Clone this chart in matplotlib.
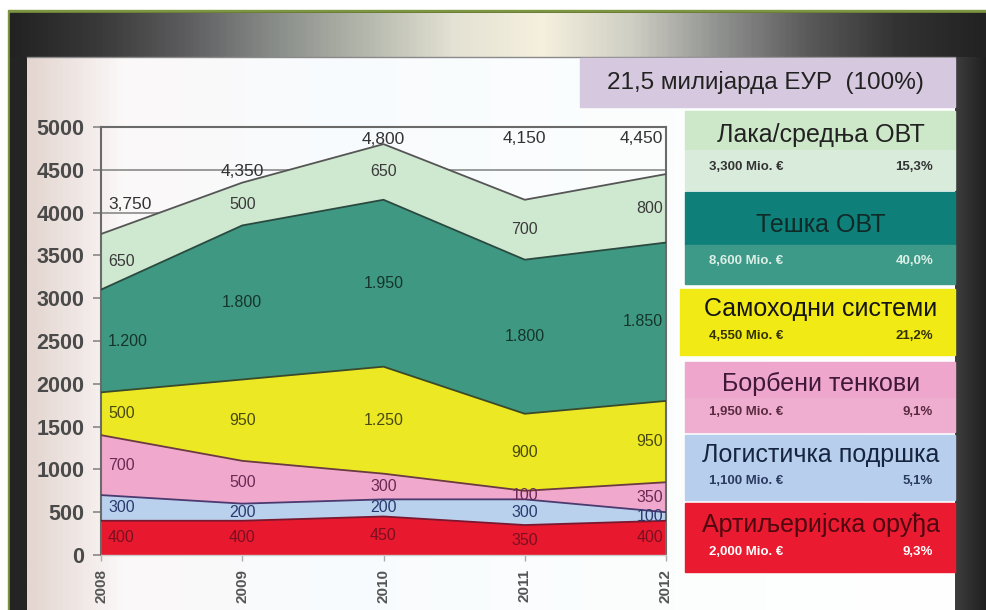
import matplotlib
matplotlib.use("Agg")
import matplotlib.pyplot as plt
import numpy as np
from matplotlib.colors import LinearSegmentedColormap
from matplotlib.patches import Rectangle

plt.rcParams["font.family"] = ["Liberation Sans", "DejaVu Sans"]

# --- data (Mio. EUR per year), stacked bottom -> top ---
years = [2008, 2009, 2010, 2011, 2012]
artiljerija = [400, 400, 450, 350, 400]
logistika = [300, 200, 200, 300, 100]
tenkovi = [700, 500, 300, 100, 350]
samohodni = [500, 950, 1250, 900, 950]
teska_ovt = [1200, 1800, 1950, 1800, 1850]
laka_ovt = [650, 500, 650, 700, 800]
layers = [artiljerija, logistika, tenkovi, samohodni, teska_ovt, laka_ovt]

y_ticks = [0, 500, 1000, 1500, 2000, 2500, 3000, 3500, 4000, 4500, 5000]

total_title = "21,5 милијарда ЕУР  (100%)"
legend_names = ["Лака/средња ОВТ", "Тешка ОВТ", "Самоходни системи",
                "Борбени тенкови", "Логистичка подршка", "Артиљеријска оруђа"]
legend_amounts = ["3,300 Mio. €", "8,600 Mio. €", "4,550 Mio. €",
                  "1,950 Mio. €", "1,100 Mio. €", "2,000 Mio. €"]
legend_shares = ["15,3%", "40,0%", "21,2%", "9,1%", "5,1%", "9,3%"]

# --- styles (bottom -> top) ---
fill_colors = ["#e8182e", "#b9d1ec", "#f0a9cc", "#ece824", "#3f9882", "#cfe8d0"]
edge_colors = ["#7a1830", "#4a3a70", "#6a3a40", "#3a4a2a", "#2a4a40", "#555555"]
label_colors = ["#7a1020", "#2a3a70", "#6a2a55", "#4a4a10", "#15352c", "#3a3a3a"]
# height at which the yearly totals are written (top row of labels)
total_label_y = [4090, 4475, 4850, 4870, 4860]

W, H = 987, 610
fig = plt.figure(figsize=(W / 100, H / 100), dpi=100)
fig.patch.set_facecolor("white")

# background / frame in pixel coordinates
bg = fig.add_axes([0, 0, 1, 1])
bg.set_xlim(0, W)
bg.set_ylim(H, 0)
bg.axis("off")

bg.add_patch(Rectangle((8, 10), W - 8, H - 10, color="#7d9440", zorder=0))
bg.add_patch(Rectangle((10, 13), W - 10, H - 13, color="#242424", zorder=0.5))

top_cmap = LinearSegmentedColormap.from_list(
    "topbar", ["#222222", "#3a3a3a", "#5e5e60", "#8a8e8a", "#b4b8ac", "#e4e2d4",
               "#f6f0de", "#cfcfc4", "#909290", "#5a5a5a", "#333333", "#222222"])
bg.imshow(np.linspace(0, 1, 400)[None, :], cmap=top_cmap, aspect="auto",
          extent=(10, W, 57, 13), zorder=1)

right_cmap = LinearSegmentedColormap.from_list("rframe", ["#3e3e3e", "#1e1e1e"])
bg.imshow(np.linspace(0, 1, 50)[None, :], cmap=right_cmap, aspect="auto",
          extent=(955, W, H, 57), zorder=1)

panel_cmap = LinearSegmentedColormap.from_list(
    "panel", [(0.0, "#e4d6d0"), (0.05, "#efe6e4"), (0.1, "#fbf8f8"),
              (0.3, "#f8fbfd"), (0.7, "#fcfefe"), (1.0, "#ffffff")])
bg.imshow(np.linspace(0, 1, 400)[None, :], cmap=panel_cmap, aspect="auto",
          extent=(27, 955, H, 57), zorder=1)
bg.plot([27, 955], [57, 57], color="#8a8a8a", lw=1, zorder=2)

# legend boxes
bg.add_patch(Rectangle((580, 58), 375, 49, color="#d6c8de", zorder=2))
bg.text(765, 83, total_title, fontsize=17.5, color="#222222",
        ha="center", va="center", zorder=3)

box_top = [111, 192, 289, 362, 435, 503]
box_bottom = [190, 284, 355, 432, 500, 572]
box_split = [150, 245, 322, 398, 467, 538]
box_left = [685, 685, 680, 685, 685, 685]
head_colors = ["#cde8c8", "#0f7f7a", "#f2ea14", "#eea6cc", "#b7cfec", "#ea1a30"]
foot_colors = ["#d9ecdc", "#3d9a88", "#f2ea14", "#efaed0", "#b7cfec", "#ea1a30"]
head_text = ["#222222", "#102a28", "#151515", "#40183a", "#152540", "#500810"]
foot_text = ["#333333", "#dcefe6", "#333300", "#5a2a40", "#2a3a60", "#ffffff"]

for i, name in enumerate(legend_names):
    x0 = box_left[i]
    bg.add_patch(Rectangle((x0, box_top[i]), 955 - x0, box_split[i] - box_top[i],
                           color=head_colors[i], zorder=2))
    bg.add_patch(Rectangle((x0, box_split[i]), 955 - x0, box_bottom[i] - box_split[i],
                           color=foot_colors[i], zorder=2))
    mid_head = box_top[i] + (box_split[i] - box_top[i]) * 0.62
    mid_foot = box_split[i] + (box_bottom[i] - box_split[i]) * 0.42
    bg.text(821, mid_head, name, fontsize=18, color=head_text[i],
            ha="center", va="center", zorder=3)
    bg.text(709, mid_foot, legend_amounts[i], fontsize=9.5, fontweight="bold",
            color=foot_text[i], ha="left", va="center", zorder=3)
    bg.text(933, mid_foot, legend_shares[i], fontsize=9.5, fontweight="bold",
            color=foot_text[i], ha="right", va="center", zorder=3)

# --- the stacked area chart ---
ax = fig.add_axes([101 / W, 55 / H, 565 / W, 428 / H])
ax.set_facecolor("none")
ax.stackplot(years, layers, colors=fill_colors, linewidth=0, zorder=2)

cum = np.cumsum(np.array(layers), axis=0)
for i in range(len(layers)):
    ax.plot(years, cum[i], color=edge_colors[i], lw=1.3, zorder=3)

ax.set_xlim(years[0], years[-1])
ax.set_ylim(0, 5000)
ax.set_yticks(y_ticks)
ax.set_yticklabels([str(t) for t in y_ticks], fontsize=15.5, fontweight="bold",
                   color="#4a4a4a")
ax.set_xticks(years)
ax.set_xticklabels([str(y) for y in years], rotation=90, fontsize=11,
                   fontweight="bold", color="#555555")
ax.tick_params(axis="y", length=6, width=1.2, color="#888888", pad=6)
ax.tick_params(axis="x", length=4, width=1, color="#aaaaaa", pad=6)
ax.grid(axis="y", color="#8a8a8a", lw=1.2, zorder=1)
ax.set_axisbelow(True)
for side in ["top", "right", "left"]:
    ax.spines[side].set_color("#6a6a6a")
    ax.spines[side].set_linewidth(1.5)
ax.spines["bottom"].set_color("#cccccc")
ax.spines["bottom"].set_linewidth(1)

# value labels in the middle of each band
base = np.vstack([np.zeros(len(years)), cum[:-1]])
for j, yr in enumerate(years):
    if j == 0:
        xpos, ha = yr + 0.05, "left"
    elif j == len(years) - 1:
        xpos, ha = yr - 0.02, "right"
    else:
        xpos, ha = yr, "center"
    for i in range(len(layers)):
        v = layers[i][j]
        mid = base[i][j] + v / 2
        ax.text(xpos, mid, f"{v:,}".replace(",", "."), fontsize=11.5,
                color=label_colors[i], ha=ha, va="center", zorder=4)
    total = cum[-1][j]
    ax.text(xpos, total_label_y[j], f"{total:,}", fontsize=12.5,
            color="#333333", ha=ha, va="center", zorder=4)

fig.savefig("out.png", dpi=100)
